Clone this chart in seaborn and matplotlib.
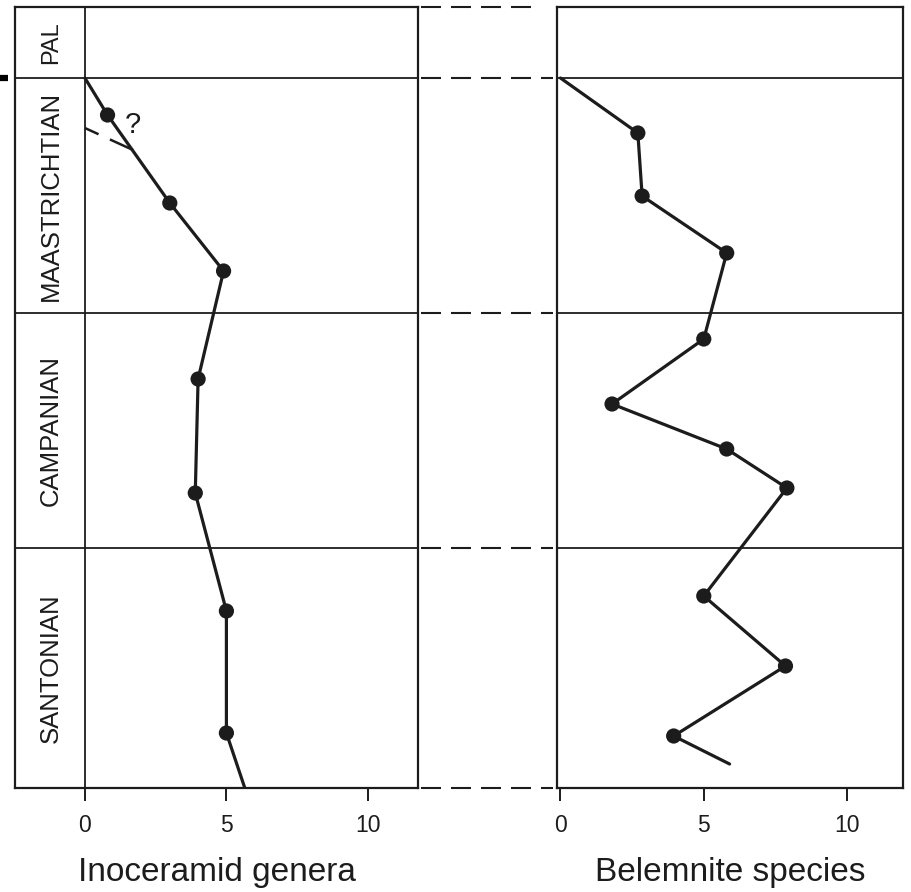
"""Inoceramid genera vs belemnite species through the Late Cretaceous stages."""
import matplotlib
matplotlib.use("Agg")
import matplotlib.pyplot as plt
from matplotlib.lines import Line2D
from matplotlib.transforms import blended_transform_factory
import pandas as pd
import seaborn as sns

# stage names (base to top) and their boundaries in stratigraphic level units
STAGES = ["SANTONIAN", "CAMPANIAN", "MAASTRICHTIAN", "PAL"]
STAGE_BOUNDS = [0, 240, 475, 710, 781]
STAGE_FONTSIZE = [18.5, 18.5, 18.5, 17]

# inoceramid genera, top (K/T boundary) down to the base
INOC_LEVEL = [710, 673, 585, 517, 409, 295, 177, 55, 0]
INOC_COUNT = [0, 0.8, 3.0, 4.9, 4.0, 3.9, 5.0, 5.0, 5.65]
INOC_DOT = [False, True, True, True, True, True, True, True, False]
# queried alternative near the top
INOC_Q_LEVEL = [660, 638]
INOC_Q_COUNT = [0, 1.7]

# belemnite species
BELEM_LEVEL = [710, 655, 592, 535, 449, 384, 339, 300, 192, 122, 52, 24]
BELEM_COUNT = [0, 2.7, 2.85, 5.8, 5.0, 1.8, 5.8, 7.9, 5.0, 7.85, 3.95, 5.9]
BELEM_DOT = [False] + [True] * 10 + [False]

XTICKS = [0, 5, 10]
INK = "#1c1c1c"

sns.set_style("white")
plt.rcParams["font.family"] = ["Liberation Sans", "DejaVu Sans"]


def draw_panel(ax, level, count, dot, xlim, xlabel):
    df = pd.DataFrame({"level": level, "count": count, "dot": dot})
    sns.lineplot(data=df, x="count", y="level", sort=False, estimator=None,
                 color=INK, lw=2.3, ax=ax)
    sns.scatterplot(data=df[df["dot"]], x="count", y="level", color=INK,
                    s=120, edgecolor="none", ax=ax, zorder=3)
    for b in STAGE_BOUNDS[1:-1]:
        ax.axhline(b, color=INK, lw=1.3)
    ax.set_xlim(*xlim)
    ax.set_ylim(STAGE_BOUNDS[0], STAGE_BOUNDS[-1])
    ax.set_xticks(XTICKS)
    ax.set_xticklabels([str(t) for t in XTICKS])
    ax.set_yticks([])
    ax.set_ylabel("")
    ax.tick_params(axis="x", direction="out", bottom=True, length=9, width=1.4,
                   pad=10, labelsize=16.5, colors=INK)
    ax.set_xlabel(xlabel, fontsize=24, labelpad=14, color=INK)
    for s in ax.spines.values():
        s.set_visible(True)
        s.set_linewidth(1.6)
        s.set_color(INK)


fig = plt.figure(figsize=(9.11, 8.92), dpi=100)
ax_l = fig.add_axes([15 / 911, 104 / 892, 403 / 911, 781 / 892])
ax_r = fig.add_axes([557 / 911, 104 / 892, 346 / 911, 781 / 892])

draw_panel(ax_l, INOC_LEVEL, INOC_COUNT, INOC_DOT, (-2.47, 11.77), "Inoceramid genera")
draw_panel(ax_r, BELEM_LEVEL, BELEM_COUNT, BELEM_DOT, (-0.12, 11.95), "Belemnite species")

# stage column on the left panel
ax_l.axvline(0, color=INK, lw=1.3)
for name, lo, hi, fs in zip(STAGES, STAGE_BOUNDS[:-1], STAGE_BOUNDS[1:], STAGE_FONTSIZE):
    ax_l.text(-1.2, (lo + hi) / 2, name, rotation=90, ha="center", va="center",
              fontsize=fs, color=INK)

# queried dashed branch and "?"
ax_l.plot(INOC_Q_COUNT, INOC_Q_LEVEL, color=INK, lw=1.8, linestyle=(0, (6, 5, 30, 5)))
ax_l.text(1.7, 663, "?", fontsize=21, ha="center", va="center", color=INK)

# dashed correlation lines between the two panels
trans = blended_transform_factory(fig.transFigure, ax_l.transData)
for b in STAGE_BOUNDS:
    x1 = 538 / 911 if b == STAGE_BOUNDS[-1] else 553 / 911
    fig.add_artist(Line2D([421 / 911, x1], [b, b], transform=trans, color=INK,
                          lw=1.5, linestyle=(0, (9.6, 4.8))))
# short scan mark at the far left of the K/T boundary
fig.add_artist(Line2D([0, 8 / 911], [STAGE_BOUNDS[3], STAGE_BOUNDS[3]], transform=trans,
                      color="black", lw=4.5, solid_capstyle="butt"))

fig.savefig("out.png", dpi=100)
